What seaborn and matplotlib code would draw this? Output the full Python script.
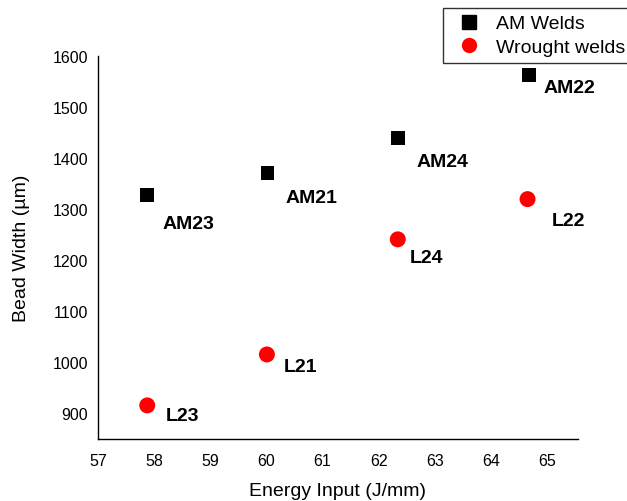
import matplotlib
matplotlib.use("Agg")
import matplotlib.pyplot as plt
import seaborn as sns
import pandas as pd
from matplotlib.lines import Line2D

sns.set_style("white")
plt.rcParams['font.family'] = ['Liberation Sans', 'DejaVu Sans']
plt.rcParams['text.color'] = 'black'
plt.rcParams['axes.labelcolor'] = 'black'
plt.rcParams['xtick.color'] = 'black'
plt.rcParams['ytick.color'] = 'black'

am_names = ["AM23", "AM21", "AM24", "AM22"]
am_energy = [57.88, 60.02, 62.35, 64.67]
am_width = [1327, 1370, 1439, 1563]

wr_names = ["L23", "L21", "L24", "L22"]
wr_energy = [57.88, 60.01, 62.34, 64.65]
wr_width = [914, 1014, 1240, 1319]

x_ticks = [57, 58, 59, 60, 61, 62, 63, 64, 65]
y_ticks = [900, 1000, 1100, 1200, 1300, 1400, 1500, 1600]

am_df = pd.DataFrame({"name": am_names, "energy": am_energy, "width": am_width})
wr_df = pd.DataFrame({"name": wr_names, "energy": wr_energy, "width": wr_width})

fig = plt.figure(figsize=(6.27, 5.02), dpi=100)
ax = fig.add_axes([0.156, 0.1235, 0.766, 0.763])

sns.scatterplot(data=am_df, x="energy", y="width", marker="s", color="black",
                s=100, edgecolor="none", ax=ax, legend=False)
sns.scatterplot(data=wr_df, x="energy", y="width", marker="o", color="red",
                s=132, edgecolor="none", ax=ax, legend=False)

# label offsets in pixels (dx right, dy down)
am_off = [(15, 28), (18, 24), (18, 24), (15, 13)]
wr_off = [(19, 10), (16.5, 12), (11.5, 18), (24.5, 21)]
k = 0.72
for d, offs in ((am_df, am_off), (wr_df, wr_off)):
    for (n, x, y), (dx, dy) in zip(d[["name", "energy", "width"]].values, offs):
        ax.annotate(n, (x, y), xytext=(dx * k, -dy * k), textcoords="offset points",
                    fontsize=14, fontweight="bold", ha="left", va="center")

ax.set_xlim(57, 65.55)
ax.set_ylim(848, 1600)
ax.set_xticks(x_ticks)
ax.set_yticks(y_ticks)
ax.tick_params(length=0, labelsize=11.5)
ax.tick_params(axis="x", pad=10)
ax.tick_params(axis="y", pad=7)
ax.set_xlabel("Energy Input (J/mm)", fontsize=14, labelpad=10)
ax.set_ylabel("Bead Width (\u00b5m)", fontsize=14, labelpad=16)
for s in ["top", "right"]:
    ax.spines[s].set_visible(False)
for s in ["left", "bottom"]:
    ax.spines[s].set_color("black")
    ax.spines[s].set_linewidth(1.0)

handles = [Line2D([], [], marker="s", color="black", linestyle="none", markersize=9.5),
           Line2D([], [], marker="o", color="red", linestyle="none", markersize=11, markeredgewidth=0)]
leg = fig.legend(handles, ["AM Welds", "Wrought welds"], loc="upper left",
                 bbox_to_anchor=(443 / 627, 1 - 9 / 502), frameon=True, fancybox=False,
                 edgecolor="black", fontsize=14, borderaxespad=0, handletextpad=0.4,
                 handlelength=2.0, labelspacing=0.3, borderpad=0.35)
leg.get_frame().set_linewidth(1.0)

fig.savefig("out.png", dpi=100)
